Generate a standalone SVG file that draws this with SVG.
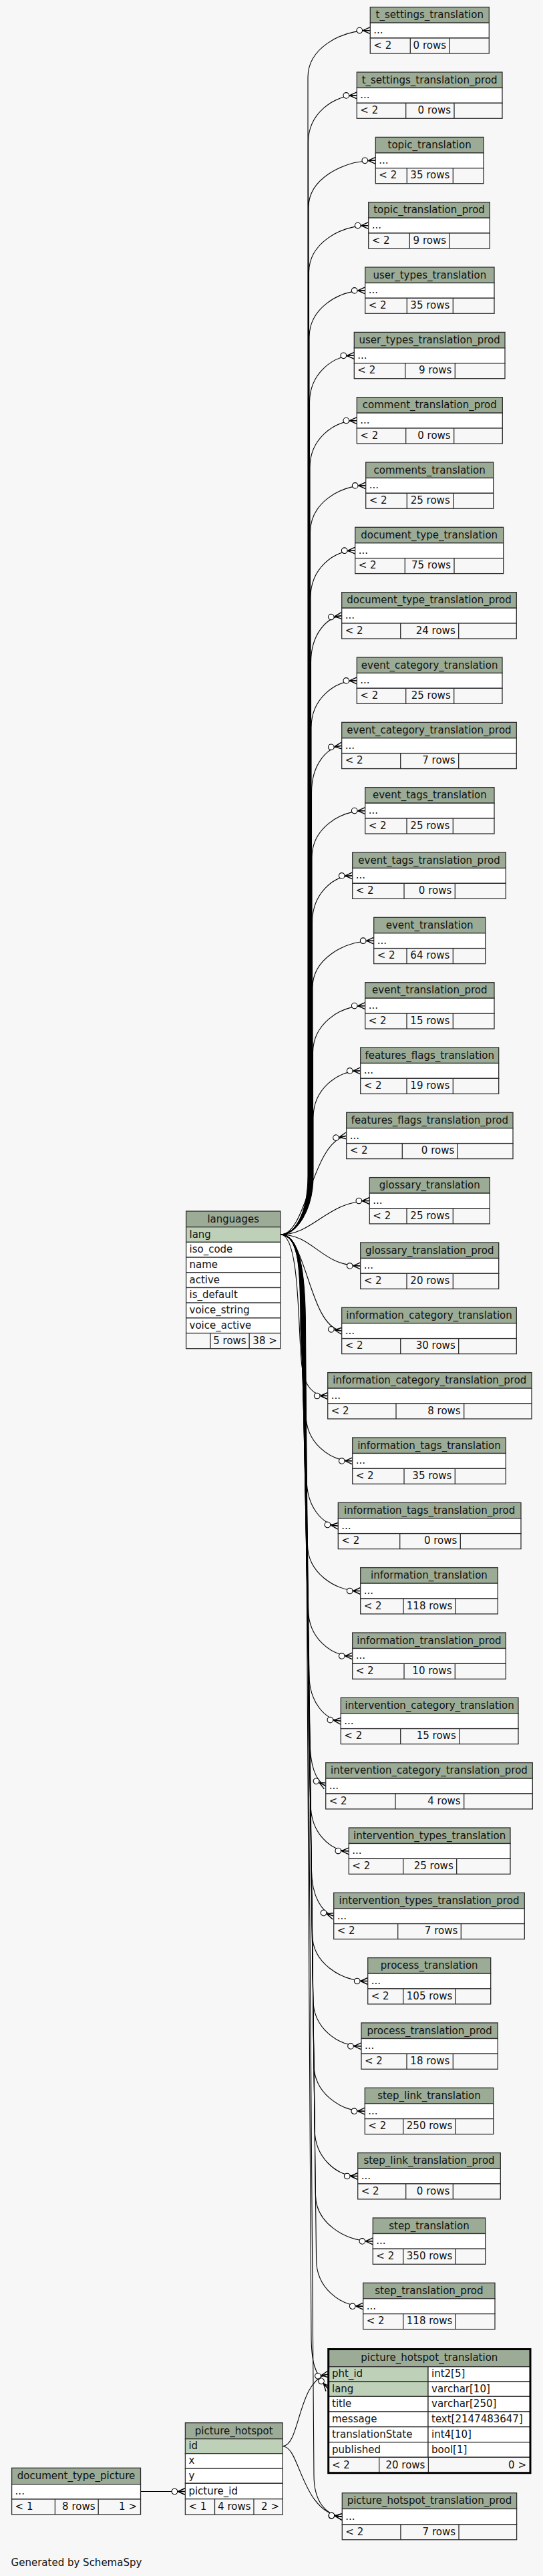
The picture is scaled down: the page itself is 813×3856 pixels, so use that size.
<svg xmlns="http://www.w3.org/2000/svg" width="813" height="3856" viewBox="0 0 813 3856">
<style>
text{font-family:"DejaVu Sans","Liberation Sans",sans-serif;font-size:15px;fill:#111}
.h{fill:#9bab96;stroke:#2e2e2e;stroke-width:1.3}
.r{fill:#fff;stroke:#2e2e2e;stroke-width:1.3}
.f{fill:#f7f7f7;stroke:#2e2e2e;stroke-width:1.3}
.k{fill:#bed1b8;stroke:#2e2e2e;stroke-width:1.3}
.ln{fill:none;stroke:#2e2e2e;stroke-width:1.3}
.c{text-anchor:middle}
.e{text-anchor:end}
.edge{fill:none;stroke:#000;stroke-width:1.1;marker-end:url(#crow)}
</style>
<defs>
<marker id="crow" markerUnits="userSpaceOnUse" markerWidth="26" markerHeight="16" refX="22" refY="8" orient="auto" overflow="visible">
<path d="M11,8L22,8M11,8L22,3M11,8L22,13" fill="none" stroke="#000" stroke-width="1.4"/>
<circle cx="6" cy="8" r="4.3" fill="#fff" stroke="#000" stroke-width="1.1"/>
</marker>
</defs>
<rect width="813" height="3856" fill="#f7f7f7"/>

<g id="connectors">
<path class="edge" d="M420,1848C445,1848 461,1810 461,1760L461,115.6C461,73.6 507.6,45.6 554.3,45.6"/>
<path class="edge" d="M420,1848C445,1848 461.5,1810 461.5,1760L461.5,212.9C461.5,170.9 497.9,142.9 534.3,142.9"/>
<path class="edge" d="M420,1848C445,1848 462,1810 462,1760L462,310.3C462,268.3 512.1,240.3 562.3,240.3"/>
<path class="edge" d="M420,1848C445,1848 462.5,1810 462.5,1760L462.5,407.6C462.5,365.6 507.1,337.6 551.7,337.6"/>
<path class="edge" d="M420,1848C445,1848 463,1810 463,1760L463,504.9C463,462.9 504.8,434.9 546.7,434.9"/>
<path class="edge" d="M420,1848C445,1848 463.5,1810 463.5,1760L463.5,602.3C463.5,560.3 496.9,532.3 530.3,532.3"/>
<path class="edge" d="M420,1848C445,1848 464,1810 464,1760L464,699.6C464,657.6 499.1,629.6 534.3,629.6"/>
<path class="edge" d="M420,1848C445,1848 464.5,1810 464.5,1760L464.5,796.9C464.5,754.9 506.1,726.9 547.7,726.9"/>
<path class="edge" d="M420,1848C445,1848 465,1810 465,1760L465,894.2C465,852.2 498.3,824.2 531.7,824.2"/>
<path class="edge" d="M420,1848C445,1848 465.5,1810 465.5,1760L465.5,991.6C465.5,949.6 488.6,924.4 511.7,921.6"/>
<path class="edge" d="M420,1848C445,1848 466,1810 466,1760L466,1088.9C466,1046.9 500.1,1018.9 534.3,1018.9"/>
<path class="edge" d="M420,1848C445,1848 466.5,1810 466.5,1760L466.5,1186.2C466.5,1144.2 489.1,1119.2 511.7,1116.2"/>
<path class="edge" d="M420,1848C445,1848 467,1810 467,1760L467,1283.6C467,1241.6 506.8,1213.6 546.7,1213.6"/>
<path class="edge" d="M420,1848C445,1848 467.5,1810 467.5,1760L467.5,1380.9C467.5,1338.9 497.6,1310.9 527.7,1310.9"/>
<path class="edge" d="M420,1848C445,1848 468,1810 468,1760L468,1478.2C468,1436.2 513.8,1408.2 559.7,1408.2"/>
<path class="edge" d="M420,1848C445,1848 468.5,1810 468.5,1760L468.5,1575.6C468.5,1533.6 507.6,1505.6 546.7,1505.6"/>
<path class="edge" d="M420,1848C445,1848 469,1810 469,1760L469,1672.9C469,1630.9 504.3,1602.9 539.7,1602.9"/>
<path class="edge" d="M420,1848C460,1848 466,1710 518.7,1700.2"/>
<path class="edge" d="M420,1848C470,1848 490,1797.5 553.3,1797.5"/>
<path class="edge" d="M420,1848C470,1848 480,1894.9 539.7,1894.9"/>
<path class="edge" d="M420,1848C460,1848 462,1985 511.7,1992.2"/>
<path class="edge" d="M420,1848C450,1848 446,2000 452,2045C456,2075 468,2089.5 490.7,2089.5"/>
<path class="edge" d="M420,1848C448,1848 450,1900 450,1990L458,2116.9C458,2158.9 492.8,2186.9 527.7,2186.9"/>
<path class="edge" d="M420,1848C448,1848 450.5,1900 450.5,1990L459.2,2214.2C459.2,2256.2 482.7,2281.6 506.3,2284.2"/>
<path class="edge" d="M420,1848C448,1848 451,1900 451,1990L460.4,2311.5C460.4,2353.5 500,2381.5 539.7,2381.5"/>
<path class="edge" d="M420,1848C448,1848 451.5,1900 451.5,1990L461.6,2408.9C461.6,2450.9 494.6,2478.9 527.7,2478.9"/>
<path class="edge" d="M420,1848C448,1848 452,1900 452,1990L462.8,2506.2C462.8,2548.2 486.5,2573.7 510.3,2576.2"/>
<path class="edge" d="M420,1848C448,1848 452.5,1900 452.5,1990L464,2603.5C464,2645.5 473.7,2666.2 487.7,2673.5"/>
<path class="edge" d="M420,1848C448,1848 453,1900 453,1990L465.2,2700.9C465.2,2742.9 493.7,2770.3 522.3,2770.9"/>
<path class="edge" d="M420,1848C448,1848 453.5,1900 453.5,1990L466.4,2798.2C466.4,2840.2 483,2862.9 499.7,2868.2"/>
<path class="edge" d="M420,1848C448,1848 454,1900 454,1990L467.6,2895.5C467.6,2937.5 509.1,2965.5 550.7,2965.5"/>
<path class="edge" d="M420,1848C448,1848 454.5,1900 454.5,1990L468.8,2992.9C468.8,3034.9 504.9,3062.9 541,3062.9"/>
<path class="edge" d="M420,1848C448,1848 455,1900 455,1990L470,3090.2C470,3132.2 508.1,3160.2 546.3,3160.2"/>
<path class="edge" d="M420,1848C448,1848 455.5,1900 455.5,1990L471.2,3187.5C471.2,3229.5 503.4,3257.5 535.7,3257.5"/>
<path class="edge" d="M420,1848C448,1848 456,1900 456,1990L472.4,3284.9C472.4,3326.9 515.3,3354.9 558.3,3354.9"/>
<path class="edge" d="M420,1848C448,1848 456.5,1900 456.5,1990L473.6,3382.2C473.6,3424.2 508.6,3452.2 543.7,3452.2"/>
<path class="edge" d="M420,1848C448,1848 457,1900 457,1990L466,3495C466,3535 470,3552 491.7,3576.2"/>
<path class="edge" d="M420,1848C448,1848 457.5,1900 457.5,1990L470,3705C470,3745 488,3765 512.3,3767.3"/>
<path class="edge" d="M423.1,3661.7C450,3661.7 445,3562 491.7,3553.9"/>
<path class="edge" d="M423.1,3661.7C450,3661.7 450,3760 512.3,3767.3"/>
<path class="edge" d="M210.5,3729.5L277.4,3729.5"/>
</g>

<g id="t_settings_translation" transform="translate(554.3,10.7)"><rect class="h" width="178" height="23.5"/><rect class="r" y="23.5" width="178" height="22.8"/><rect class="f" y="46.3" width="178" height="23"/><path class="ln" d="M60,46.3V69.3M118.7,46.3V69.3"/><text class="c" x="89" y="16.6">t_settings_translation</text><text x="5" y="39.3">...</text><text x="5" y="62">&lt; 2</text><text class="e" x="113.7" y="62">0 rows</text></g>
<g id="t_settings_translation_prod" transform="translate(534.3,108)"><rect class="h" width="217.7" height="23.5"/><rect class="r" y="23.5" width="217.7" height="22.8"/><rect class="f" y="46.3" width="217.7" height="23"/><path class="ln" d="M73.4,46.3V69.3M145.7,46.3V69.3"/><text class="c" x="108.85" y="16.6">t_settings_translation_prod</text><text x="5" y="39.3">...</text><text x="5" y="62">&lt; 2</text><text class="e" x="140.7" y="62">0 rows</text></g>
<g id="topic_translation" transform="translate(562.3,205.4)"><rect class="h" width="161.7" height="23.5"/><rect class="r" y="23.5" width="161.7" height="22.8"/><rect class="f" y="46.3" width="161.7" height="23"/><path class="ln" d="M47,46.3V69.3M116,46.3V69.3"/><text class="c" x="80.85" y="16.6">topic_translation</text><text x="5" y="39.3">...</text><text x="5" y="62">&lt; 2</text><text class="e" x="111" y="62">35 rows</text></g>
<g id="topic_translation_prod" transform="translate(551.7,302.7)"><rect class="h" width="181.6" height="23.5"/><rect class="r" y="23.5" width="181.6" height="22.8"/><rect class="f" y="46.3" width="181.6" height="23"/><path class="ln" d="M61.6,46.3V69.3M121.3,46.3V69.3"/><text class="c" x="90.8" y="16.6">topic_translation_prod</text><text x="5" y="39.3">...</text><text x="5" y="62">&lt; 2</text><text class="e" x="116.3" y="62">9 rows</text></g>
<g id="user_types_translation" transform="translate(546.7,400)"><rect class="h" width="193.3" height="23.5"/><rect class="r" y="23.5" width="193.3" height="22.8"/><rect class="f" y="46.3" width="193.3" height="23"/><path class="ln" d="M62.6,46.3V69.3M131.6,46.3V69.3"/><text class="c" x="96.65" y="16.6">user_types_translation</text><text x="5" y="39.3">...</text><text x="5" y="62">&lt; 2</text><text class="e" x="126.6" y="62">35 rows</text></g>
<g id="user_types_translation_prod" transform="translate(530.3,497.4)"><rect class="h" width="225.7" height="23.5"/><rect class="r" y="23.5" width="225.7" height="22.8"/><rect class="f" y="46.3" width="225.7" height="23"/><path class="ln" d="M76.4,46.3V69.3M151,46.3V69.3"/><text class="c" x="112.85" y="16.6">user_types_translation_prod</text><text x="5" y="39.3">...</text><text x="5" y="62">&lt; 2</text><text class="e" x="146" y="62">9 rows</text></g>
<g id="comment_translation_prod" transform="translate(534.3,594.7)"><rect class="h" width="218" height="23.5"/><rect class="r" y="23.5" width="218" height="22.8"/><rect class="f" y="46.3" width="218" height="23"/><path class="ln" d="M73.4,46.3V69.3M145.4,46.3V69.3"/><text class="c" x="109" y="16.6">comment_translation_prod</text><text x="5" y="39.3">...</text><text x="5" y="62">&lt; 2</text><text class="e" x="140.4" y="62">0 rows</text></g>
<g id="comments_translation" transform="translate(547.7,692)"><rect class="h" width="191" height="23.5"/><rect class="r" y="23.5" width="191" height="22.8"/><rect class="f" y="46.3" width="191" height="23"/><path class="ln" d="M61.6,46.3V69.3M131,46.3V69.3"/><text class="c" x="95.5" y="16.6">comments_translation</text><text x="5" y="39.3">...</text><text x="5" y="62">&lt; 2</text><text class="e" x="126" y="62">25 rows</text></g>
<g id="document_type_translation" transform="translate(531.7,789.3)"><rect class="h" width="222" height="23.5"/><rect class="r" y="23.5" width="222" height="22.8"/><rect class="f" y="46.3" width="222" height="23"/><path class="ln" d="M74.6,46.3V69.3M148.3,46.3V69.3"/><text class="c" x="111" y="16.6">document_type_translation</text><text x="5" y="39.3">...</text><text x="5" y="62">&lt; 2</text><text class="e" x="143.3" y="62">75 rows</text></g>
<g id="document_type_translation_prod" transform="translate(511.7,886.7)"><rect class="h" width="261.6" height="23.5"/><rect class="r" y="23.5" width="261.6" height="22.8"/><rect class="f" y="46.3" width="261.6" height="23"/><path class="ln" d="M88,46.3V69.3M175,46.3V69.3"/><text class="c" x="130.8" y="16.6">document_type_translation_prod</text><text x="5" y="39.3">...</text><text x="5" y="62">&lt; 2</text><text class="e" x="170" y="62">24 rows</text></g>
<g id="event_category_translation" transform="translate(534.3,984)"><rect class="h" width="217.7" height="23.5"/><rect class="r" y="23.5" width="217.7" height="22.8"/><rect class="f" y="46.3" width="217.7" height="23"/><path class="ln" d="M73.4,46.3V69.3M145.4,46.3V69.3"/><text class="c" x="108.85" y="16.6">event_category_translation</text><text x="5" y="39.3">...</text><text x="5" y="62">&lt; 2</text><text class="e" x="140.4" y="62">25 rows</text></g>
<g id="event_category_translation_prod" transform="translate(511.7,1081.3)"><rect class="h" width="261.6" height="23.5"/><rect class="r" y="23.5" width="261.6" height="22.8"/><rect class="f" y="46.3" width="261.6" height="23"/><path class="ln" d="M88,46.3V69.3M175,46.3V69.3"/><text class="c" x="130.8" y="16.6">event_category_translation_prod</text><text x="5" y="39.3">...</text><text x="5" y="62">&lt; 2</text><text class="e" x="170" y="62">7 rows</text></g>
<g id="event_tags_translation" transform="translate(546.7,1178.7)"><rect class="h" width="193.3" height="23.5"/><rect class="r" y="23.5" width="193.3" height="22.8"/><rect class="f" y="46.3" width="193.3" height="23"/><path class="ln" d="M62.3,46.3V69.3M131.6,46.3V69.3"/><text class="c" x="96.65" y="16.6">event_tags_translation</text><text x="5" y="39.3">...</text><text x="5" y="62">&lt; 2</text><text class="e" x="126.6" y="62">25 rows</text></g>
<g id="event_tags_translation_prod" transform="translate(527.7,1276)"><rect class="h" width="229.6" height="23.5"/><rect class="r" y="23.5" width="229.6" height="22.8"/><rect class="f" y="46.3" width="229.6" height="23"/><path class="ln" d="M77.3,46.3V69.3M153.6,46.3V69.3"/><text class="c" x="114.8" y="16.6">event_tags_translation_prod</text><text x="5" y="39.3">...</text><text x="5" y="62">&lt; 2</text><text class="e" x="148.6" y="62">0 rows</text></g>
<g id="event_translation" transform="translate(559.7,1373.3)"><rect class="h" width="167" height="23.5"/><rect class="r" y="23.5" width="167" height="22.8"/><rect class="f" y="46.3" width="167" height="23"/><path class="ln" d="M49.3,46.3V69.3M118.6,46.3V69.3"/><text class="c" x="83.5" y="16.6">event_translation</text><text x="5" y="39.3">...</text><text x="5" y="62">&lt; 2</text><text class="e" x="113.6" y="62">64 rows</text></g>
<g id="event_translation_prod" transform="translate(546.7,1470.7)"><rect class="h" width="193.3" height="23.5"/><rect class="r" y="23.5" width="193.3" height="22.8"/><rect class="f" y="46.3" width="193.3" height="23"/><path class="ln" d="M62.3,46.3V69.3M131.6,46.3V69.3"/><text class="c" x="96.65" y="16.6">event_translation_prod</text><text x="5" y="39.3">...</text><text x="5" y="62">&lt; 2</text><text class="e" x="126.6" y="62">15 rows</text></g>
<g id="features_flags_translation" transform="translate(539.7,1568)"><rect class="h" width="207" height="23.5"/><rect class="r" y="23.5" width="207" height="22.8"/><rect class="f" y="46.3" width="207" height="23"/><path class="ln" d="M69.3,46.3V69.3M138.6,46.3V69.3"/><text class="c" x="103.5" y="16.6">features_flags_translation</text><text x="5" y="39.3">...</text><text x="5" y="62">&lt; 2</text><text class="e" x="133.6" y="62">19 rows</text></g>
<g id="features_flags_translation_prod" transform="translate(518.7,1665.3)"><rect class="h" width="249.3" height="23.5"/><rect class="r" y="23.5" width="249.3" height="22.8"/><rect class="f" y="46.3" width="249.3" height="23"/><path class="ln" d="M83.6,46.3V69.3M166.6,46.3V69.3"/><text class="c" x="124.65" y="16.6">features_flags_translation_prod</text><text x="5" y="39.3">...</text><text x="5" y="62">&lt; 2</text><text class="e" x="161.6" y="62">0 rows</text></g>
<g id="glossary_translation" transform="translate(553.3,1762.6)"><rect class="h" width="180" height="23.5"/><rect class="r" y="23.5" width="180" height="22.8"/><rect class="f" y="46.3" width="180" height="23"/><path class="ln" d="M55.7,46.3V69.3M125,46.3V69.3"/><text class="c" x="90" y="16.6">glossary_translation</text><text x="5" y="39.3">...</text><text x="5" y="62">&lt; 2</text><text class="e" x="120" y="62">25 rows</text></g>
<g id="glossary_translation_prod" transform="translate(539.7,1860)"><rect class="h" width="207" height="23.5"/><rect class="r" y="23.5" width="207" height="22.8"/><rect class="f" y="46.3" width="207" height="23"/><path class="ln" d="M69.3,46.3V69.3M138.6,46.3V69.3"/><text class="c" x="103.5" y="16.6">glossary_translation_prod</text><text x="5" y="39.3">...</text><text x="5" y="62">&lt; 2</text><text class="e" x="133.6" y="62">20 rows</text></g>
<g id="information_category_translation" transform="translate(511.7,1957.3)"><rect class="h" width="261.6" height="23.5"/><rect class="r" y="23.5" width="261.6" height="22.8"/><rect class="f" y="46.3" width="261.6" height="23"/><path class="ln" d="M88,46.3V69.3M175,46.3V69.3"/><text class="c" x="130.8" y="16.6">information_category_translation</text><text x="5" y="39.3">...</text><text x="5" y="62">&lt; 2</text><text class="e" x="170" y="62">30 rows</text></g>
<g id="information_category_translation_prod" transform="translate(490.7,2054.6)"><rect class="h" width="305.3" height="23.5"/><rect class="r" y="23.5" width="305.3" height="22.8"/><rect class="f" y="46.3" width="305.3" height="23"/><path class="ln" d="M102.3,46.3V69.3M204,46.3V69.3"/><text class="c" x="152.65" y="16.6">information_category_translation_prod</text><text x="5" y="39.3">...</text><text x="5" y="62">&lt; 2</text><text class="e" x="199" y="62">8 rows</text></g>
<g id="information_tags_translation" transform="translate(527.7,2152)"><rect class="h" width="229.6" height="23.5"/><rect class="r" y="23.5" width="229.6" height="22.8"/><rect class="f" y="46.3" width="229.6" height="23"/><path class="ln" d="M77.3,46.3V69.3M153.6,46.3V69.3"/><text class="c" x="114.8" y="16.6">information_tags_translation</text><text x="5" y="39.3">...</text><text x="5" y="62">&lt; 2</text><text class="e" x="148.6" y="62">35 rows</text></g>
<g id="information_tags_translation_prod" transform="translate(506.3,2249.3)"><rect class="h" width="273.7" height="23.5"/><rect class="r" y="23.5" width="273.7" height="22.8"/><rect class="f" y="46.3" width="273.7" height="23"/><path class="ln" d="M92.4,46.3V69.3M183,46.3V69.3"/><text class="c" x="136.85" y="16.6">information_tags_translation_prod</text><text x="5" y="39.3">...</text><text x="5" y="62">&lt; 2</text><text class="e" x="178" y="62">0 rows</text></g>
<g id="information_translation" transform="translate(539.7,2346.6)"><rect class="h" width="205.6" height="23.5"/><rect class="r" y="23.5" width="205.6" height="22.8"/><rect class="f" y="46.3" width="205.6" height="23"/><path class="ln" d="M64.3,46.3V69.3M142.6,46.3V69.3"/><text class="c" x="102.8" y="16.6">information_translation</text><text x="5" y="39.3">...</text><text x="5" y="62">&lt; 2</text><text class="e" x="137.6" y="62">118 rows</text></g>
<g id="information_translation_prod" transform="translate(527.7,2444)"><rect class="h" width="229.6" height="23.5"/><rect class="r" y="23.5" width="229.6" height="22.8"/><rect class="f" y="46.3" width="229.6" height="23"/><path class="ln" d="M77.3,46.3V69.3M153.6,46.3V69.3"/><text class="c" x="114.8" y="16.6">information_translation_prod</text><text x="5" y="39.3">...</text><text x="5" y="62">&lt; 2</text><text class="e" x="148.6" y="62">10 rows</text></g>
<g id="intervention_category_translation" transform="translate(510.3,2541.3)"><rect class="h" width="265.7" height="23.5"/><rect class="r" y="23.5" width="265.7" height="22.8"/><rect class="f" y="46.3" width="265.7" height="23"/><path class="ln" d="M89.4,46.3V69.3M177.4,46.3V69.3"/><text class="c" x="132.85" y="16.6">intervention_category_translation</text><text x="5" y="39.3">...</text><text x="5" y="62">&lt; 2</text><text class="e" x="172.4" y="62">15 rows</text></g>
<g id="intervention_category_translation_prod" transform="translate(487.7,2638.6)"><rect class="h" width="309.6" height="23.5"/><rect class="r" y="23.5" width="309.6" height="22.8"/><rect class="f" y="46.3" width="309.6" height="23"/><path class="ln" d="M104.3,46.3V69.3M207,46.3V69.3"/><text class="c" x="154.8" y="16.6">intervention_category_translation_prod</text><text x="5" y="39.3">...</text><text x="5" y="62">&lt; 2</text><text class="e" x="202" y="62">4 rows</text></g>
<g id="intervention_types_translation" transform="translate(522.3,2736)"><rect class="h" width="241.7" height="23.5"/><rect class="r" y="23.5" width="241.7" height="22.8"/><rect class="f" y="46.3" width="241.7" height="23"/><path class="ln" d="M81.4,46.3V69.3M161.4,46.3V69.3"/><text class="c" x="120.85" y="16.6">intervention_types_translation</text><text x="5" y="39.3">...</text><text x="5" y="62">&lt; 2</text><text class="e" x="156.4" y="62">25 rows</text></g>
<g id="intervention_types_translation_prod" transform="translate(499.7,2833.3)"><rect class="h" width="285.6" height="23.5"/><rect class="r" y="23.5" width="285.6" height="22.8"/><rect class="f" y="46.3" width="285.6" height="23"/><path class="ln" d="M96,46.3V69.3M190.6,46.3V69.3"/><text class="c" x="142.8" y="16.6">intervention_types_translation_prod</text><text x="5" y="39.3">...</text><text x="5" y="62">&lt; 2</text><text class="e" x="185.6" y="62">7 rows</text></g>
<g id="process_translation" transform="translate(550.7,2930.6)"><rect class="h" width="184" height="23.5"/><rect class="r" y="23.5" width="184" height="22.8"/><rect class="f" y="46.3" width="184" height="23"/><path class="ln" d="M53,46.3V69.3M131.6,46.3V69.3"/><text class="c" x="92" y="16.6">process_translation</text><text x="5" y="39.3">...</text><text x="5" y="62">&lt; 2</text><text class="e" x="126.6" y="62">105 rows</text></g>
<g id="process_translation_prod" transform="translate(541,3028)"><rect class="h" width="204.3" height="23.5"/><rect class="r" y="23.5" width="204.3" height="22.8"/><rect class="f" y="46.3" width="204.3" height="23"/><path class="ln" d="M68,46.3V69.3M137.3,46.3V69.3"/><text class="c" x="102.15" y="16.6">process_translation_prod</text><text x="5" y="39.3">...</text><text x="5" y="62">&lt; 2</text><text class="e" x="132.3" y="62">18 rows</text></g>
<g id="step_link_translation" transform="translate(546.3,3125.3)"><rect class="h" width="192.4" height="23.5"/><rect class="r" y="23.5" width="192.4" height="22.8"/><rect class="f" y="46.3" width="192.4" height="23"/><path class="ln" d="M57.4,46.3V69.3M136,46.3V69.3"/><text class="c" x="96.2" y="16.6">step_link_translation</text><text x="5" y="39.3">...</text><text x="5" y="62">&lt; 2</text><text class="e" x="131" y="62">250 rows</text></g>
<g id="step_link_translation_prod" transform="translate(535.7,3222.6)"><rect class="h" width="213.6" height="23.5"/><rect class="r" y="23.5" width="213.6" height="22.8"/><rect class="f" y="46.3" width="213.6" height="23"/><path class="ln" d="M72,46.3V69.3M142.6,46.3V69.3"/><text class="c" x="106.8" y="16.6">step_link_translation_prod</text><text x="5" y="39.3">...</text><text x="5" y="62">&lt; 2</text><text class="e" x="137.6" y="62">0 rows</text></g>
<g id="step_translation" transform="translate(558.3,3320)"><rect class="h" width="168.4" height="23.5"/><rect class="r" y="23.5" width="168.4" height="22.8"/><rect class="f" y="46.3" width="168.4" height="23"/><path class="ln" d="M45.4,46.3V69.3M124,46.3V69.3"/><text class="c" x="84.2" y="16.6">step_translation</text><text x="5" y="39.3">...</text><text x="5" y="62">&lt; 2</text><text class="e" x="119" y="62">350 rows</text></g>
<g id="step_translation_prod" transform="translate(543.7,3417.3)"><rect class="h" width="197.3" height="23.5"/><rect class="r" y="23.5" width="197.3" height="22.8"/><rect class="f" y="46.3" width="197.3" height="23"/><path class="ln" d="M60,46.3V69.3M138.6,46.3V69.3"/><text class="c" x="98.65" y="16.6">step_translation_prod</text><text x="5" y="39.3">...</text><text x="5" y="62">&lt; 2</text><text class="e" x="133.6" y="62">118 rows</text></g>

<g id="languages">
<rect class="h" x="278.7" y="1813" width="141.1" height="23.7"/>
<rect class="k" x="278.7" y="1836.7" width="141.1" height="22.7"/>
<rect class="r" x="278.7" y="1859.4" width="141.1" height="22.7"/>
<rect class="r" x="278.7" y="1882.1" width="141.1" height="22.7"/>
<rect class="r" x="278.7" y="1904.8" width="141.1" height="22.7"/>
<rect class="r" x="278.7" y="1927.5" width="141.1" height="22.7"/>
<rect class="r" x="278.7" y="1950.2" width="141.1" height="22.7"/>
<rect class="r" x="278.7" y="1972.9" width="141.1" height="22.7"/>
<rect class="f" x="278.7" y="1995.6" width="141.1" height="23.1"/>
<path class="ln" d="M315,1995.6V2018.7M373.2,1995.6V2018.7"/>
<text class="c" x="349.25" y="1830">languages</text>
<text x="283.5" y="1852.5">lang</text>
<text x="283.5" y="1875.2">iso_code</text>
<text x="283.5" y="1897.9">name</text>
<text x="283.5" y="1920.6">active</text>
<text x="283.5" y="1943.3">is_default</text>
<text x="283.5" y="1966">voice_string</text>
<text x="283.5" y="1988.7">voice_active</text>
<text class="e" x="368.7" y="2011.7">5 rows</text>
<text class="e" x="414.8" y="2011.7">38 &gt;</text>
</g>

<g id="picture_hotspot_translation">
<rect class="h" x="491.7" y="3516.5" width="302.3" height="26.2"/>
<rect class="k" x="491.7" y="3542.7" width="149.3" height="22.3"/><rect class="r" x="641" y="3542.7" width="153" height="22.3"/>
<rect class="k" x="491.7" y="3565" width="149.3" height="22.3"/><rect class="r" x="641" y="3565" width="153" height="22.3"/>
<rect class="r" x="491.7" y="3587.3" width="149.3" height="22.7"/><rect class="r" x="641" y="3587.3" width="153" height="22.7"/>
<rect class="r" x="491.7" y="3610" width="149.3" height="22.7"/><rect class="r" x="641" y="3610" width="153" height="22.7"/>
<rect class="r" x="491.7" y="3632.7" width="149.3" height="23"/><rect class="r" x="641" y="3632.7" width="153" height="23"/>
<rect class="r" x="491.7" y="3655.7" width="149.3" height="22.6"/><rect class="r" x="641" y="3655.7" width="153" height="22.6"/>
<rect class="f" x="491.7" y="3678.3" width="302.3" height="23.4"/>
<path class="ln" d="M567.7,3678.3V3701.7M641.4,3678.3V3701.7"/>
<rect x="491.7" y="3516.5" width="302.3" height="185.2" fill="none" stroke="#000" stroke-width="3"/>
<text class="c" x="642.85" y="3534.3">picture_hotspot_translation</text>
<text x="497" y="3558.4">pht_id</text><text x="646" y="3558.4">int2[5]</text>
<text x="497" y="3580.7">lang</text><text x="646" y="3580.7">varchar[10]</text>
<text x="497" y="3603.2">title</text><text x="646" y="3603.2">varchar[250]</text>
<text x="497" y="3625.9">message</text><text x="646" y="3625.9">text[2147483647]</text>
<text x="497" y="3648.7">translationState</text><text x="646" y="3648.7">int4[10]</text>
<text x="497" y="3671.5">published</text><text x="646" y="3671.5">bool[1]</text>
<text x="497" y="3694.5">&lt; 2</text>
<text class="e" x="636.4" y="3694.5">20 rows</text>
<text class="e" x="788" y="3694.5">0 &gt;</text>
</g>

<g id="picture_hotspot_translation_prod">
<rect class="h" x="512.3" y="3731.7" width="261.3" height="23.8"/>
<rect class="r" x="512.3" y="3755.5" width="261.3" height="23.5"/>
<rect class="f" x="512.3" y="3779" width="261.3" height="22.7"/>
<path class="ln" d="M599.9,3779V3801.7M687,3779V3801.7"/>
<text class="c" x="642.95" y="3748.3">picture_hotspot_translation_prod</text>
<text x="517.3" y="3771.5">...</text>
<text x="517.3" y="3795">&lt; 2</text>
<text class="e" x="682" y="3795">7 rows</text>
</g>

<g id="picture_hotspot">
<rect class="h" x="277.4" y="3626.7" width="145.7" height="24"/>
<rect class="k" x="277.4" y="3650.7" width="145.7" height="22"/>
<rect class="r" x="277.4" y="3672.7" width="145.7" height="22.3"/>
<rect class="r" x="277.4" y="3695" width="145.7" height="22.3"/>
<rect class="r" x="277.4" y="3717.3" width="145.7" height="23.4"/>
<rect class="f" x="277.4" y="3740.7" width="145.7" height="23.6"/>
<path class="ln" d="M321.5,3740.7V3764.3M380,3740.7V3764.3"/>
<text class="c" x="350.25" y="3643.5">picture_hotspot</text>
<text x="282.4" y="3666.2">id</text>
<text x="282.4" y="3688.4">x</text>
<text x="282.4" y="3710.6">y</text>
<text x="282.4" y="3733.5">picture_id</text>
<text x="282.4" y="3757">&lt; 1</text>
<text class="e" x="375.5" y="3757">4 rows</text>
<text class="e" x="418" y="3757">2 &gt;</text>
</g>

<g id="document_type_picture">
<rect class="h" x="17.6" y="3694.3" width="192.9" height="24.4"/>
<rect class="r" x="17.6" y="3718.7" width="192.9" height="22.3"/>
<rect class="f" x="17.6" y="3741" width="192.9" height="23"/>
<path class="ln" d="M82.4,3741V3764M147.2,3741V3764"/>
<text class="c" x="114.05" y="3711">document_type_picture</text>
<text x="22.6" y="3734.3">...</text>
<text x="22.6" y="3757">&lt; 1</text>
<text class="e" x="142.5" y="3757">8 rows</text>
<text class="e" x="205" y="3757">1 &gt;</text>
</g>

<text x="16.6" y="3841">Generated by SchemaSpy</text>
</svg>
